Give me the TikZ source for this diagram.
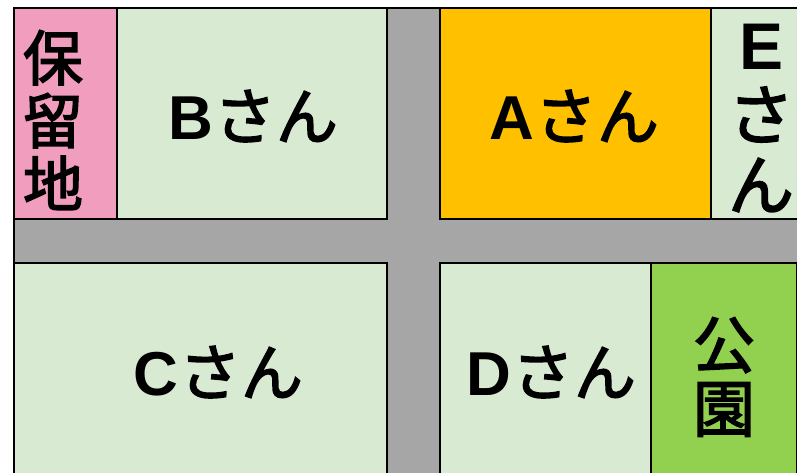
\documentclass[tikz,border=0pt]{standalone}
\usepackage{fontspec}
\setmainfont{Noto Sans CJK JP}
\newfontfamily\kanafont{Noto Sans CJK JP}[FakeBold=2.5]
\newfontfamily\latinfont{Liberation Sans}
\usetikzlibrary{positioning}
\definecolor{roadgray}{HTML}{A6A6A6}
\definecolor{lotgreen}{HTML}{D9EAD3}
\definecolor{lotpink}{HTML}{F09DBE}
\definecolor{lotorange}{HTML}{FFC000}
\definecolor{parkgreen}{HTML}{92D050}
\newcommand{\owner}[1]{{\latinfont\bfseries #1}\kern1pt{\kanafont さん}}
\tikzset{lotbox/.style={draw, line width=2pt, fill=lotgreen, inner sep=0pt}}
\tikzset{lotlabel/.style={font=\fontsize{62}{62}\selectfont, inner sep=0pt}}
\tikzset{colLabel/.style={font=\kanafont\fontsize{62}{64}\selectfont, align=center, inner sep=0pt}}

\begin{document}
\begin{tikzpicture}[x=1pt, y=-1pt]
\useasboundingbox (0,0) rectangle (797,473);
\clip (0,0) rectangle (797,473);

% road
\draw[line width=2pt, fill=roadgray] (14,8) rectangle (830,500);

% upper row
\node[lotbox, fill=lotpink, minimum width=103pt, minimum height=211pt] (reserve) at (65.5,113.5) {};
\node[lotbox, minimum width=270pt, minimum height=211pt] (lotB) at (252,113.5) {};
\node[lotbox, fill=lotorange, minimum width=271pt, minimum height=211pt] (lotA) at (575.5,113.5) {};
\node[lotbox, minimum width=100pt, minimum height=211pt] (lotE) at (761,113.5) {};

% lower row
\node[lotbox, minimum width=373pt, minimum height=230pt] (lotC) at (200.5,378) {};
\node[lotbox, minimum width=211pt, minimum height=230pt] (lotD) at (545.5,378) {};
\node[lotbox, fill=parkgreen, minimum width=146pt, minimum height=230pt] (park) at (724,378) {};

% labels
\node[colLabel, font=\kanafont\fontsize{60}{63}\selectfont] (reserveTxt) at (53,120) {保\\留\\地};
\node[lotlabel] (lotBTxt) at (253,116) {\owner{B}};
\node[lotlabel] (lotATxt) at (574,116) {\owner{A}};
\node[colLabel, font=\kanafont\fontsize{66}{70}\selectfont] (lotETxt) at (761,118) {{\latinfont\bfseries E}\\さ\\ん};
\node[lotlabel] (lotCTxt) at (218,372) {\owner{C}};
\node[lotlabel] (lotDTxt) at (551,372) {\owner{D}};
\node[colLabel] (parkTxt) at (724,377) {公\\園};

\end{tikzpicture}
\end{document}
